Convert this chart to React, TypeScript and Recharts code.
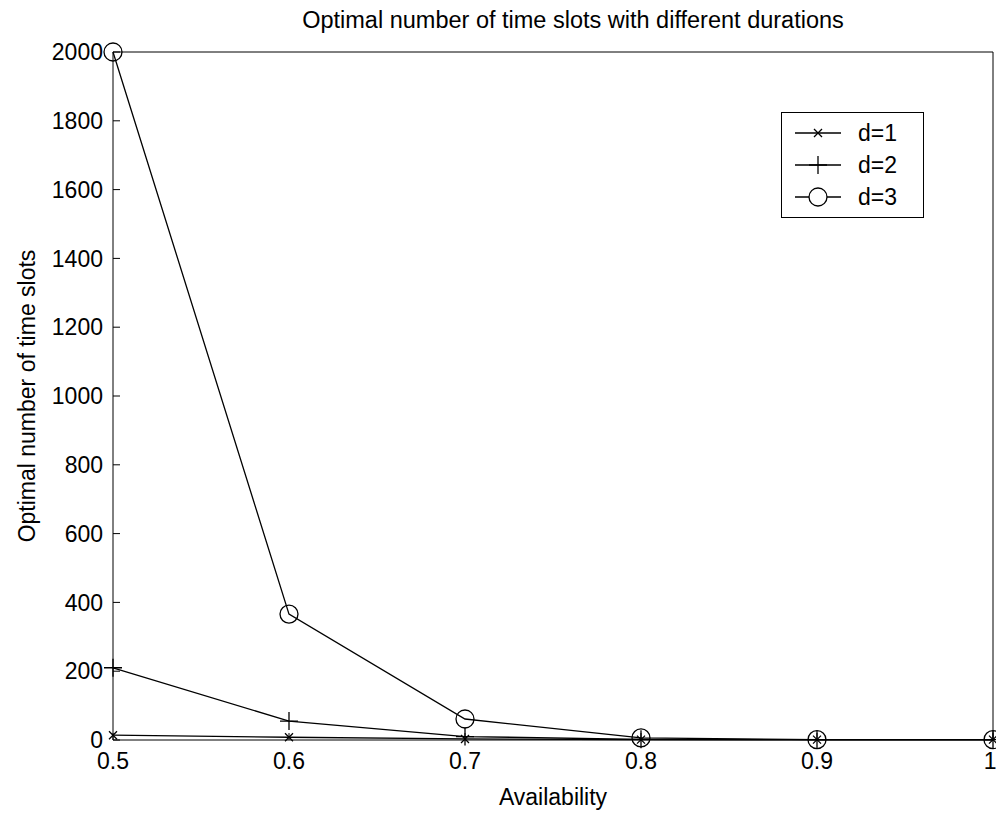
import { LineChart, Line, XAxis, YAxis, Legend } from 'recharts'

const availability = [0.5, 0.6, 0.7, 0.8, 0.9, 1]
const slotsD1 = [14, 8, 3, 1, 1, 1]
const slotsD2 = [210, 55, 10, 2, 1, 1]
const slotsD3 = [2000, 366, 61, 6, 1, 1]
const xTicks = [0.5, 0.6, 0.7, 0.8, 0.9, 1]
const yTicks = [0, 200, 400, 600, 800, 1000, 1200, 1400, 1600, 1800, 2000]
const seriesNames = ['d=1', 'd=2', 'd=3']

const data = availability.map((x, i) => ({
  x,
  d1: slotsD1[i],
  d2: slotsD2[i],
  d3: slotsD3[i],
}))

const font = '"Liberation Sans", Arial, sans-serif'
const tickStyle = { fill: '#000', fontSize: 23, fontFamily: font }

function markPath(kind: string, cx: number, cy: number) {
  if (kind === 'x') {
    const s = 4
    return `M${cx - s},${cy - s}L${cx + s},${cy + s}M${cx - s},${cy + s}L${cx + s},${cy - s}`
  }
  const s = 9
  return `M${cx - s},${cy}L${cx + s},${cy}M${cx},${cy - s}L${cx},${cy + s}`
}

function makeDot(kind: string) {
  return (props: any) => {
    const { cx, cy, index } = props
    if (cx == null || cy == null) return <g key={index} />
    if (kind === 'o') {
      return <circle key={index} cx={cx} cy={cy} r={9} stroke="#000" strokeWidth={1.3} fill="none" />
    }
    return <path key={index} d={markPath(kind, cx, cy)} stroke="#000" strokeWidth={1.3} fill="none" />
  }
}

const kinds = ['x', '+', 'o']

function LegendBox() {
  return (
    <div
      style={{
        width: 143,
        height: 106,
        border: '1.5px solid #000',
        background: '#fff',
        boxSizing: 'border-box',
        paddingTop: 4,
        fontFamily: font,
        fontSize: 23,
        color: '#000',
      }}
    >
      {seriesNames.map((name, i) => (
        <div key={name} style={{ display: 'flex', alignItems: 'center', height: 32 }}>
          <svg width={76} height={32} style={{ display: 'block' }}>
            <line x1={13} y1={16} x2={59} y2={16} stroke="#000" strokeWidth={1.3} />
            {kinds[i] === 'o' ? (
              <circle cx={36} cy={16} r={9} stroke="#000" strokeWidth={1.3} fill="#fff" />
            ) : (
              <path d={markPath(kinds[i], 36, 16)} stroke="#000" strokeWidth={1.3} fill="none" />
            )}
          </svg>
          <span>{name}</span>
        </div>
      ))}
    </div>
  )
}

export default function App() {
  return (
    <div style={{ position: 'absolute', left: 0, top: 0, background: '#fff' }}>
      <LineChart width={996} height={816} data={data} margin={{ top: 0, right: 0, bottom: 0, left: 0 }}>
        <XAxis
          xAxisId="b"
          dataKey="x"
          type="number"
          domain={[0.5, 1]}
          ticks={xTicks}
          height={76}
          tick={tickStyle}
          tickSize={-7}
          tickMargin={20}
          axisLine={{ stroke: '#000' }}
          tickLine={{ stroke: '#000' }}
          label={{
            value: 'Availability',
            position: 'insideBottom',
            offset: 11,
            style: { fill: '#000', fontSize: 23, fontFamily: font },
          }}
        />
        <XAxis
          xAxisId="t"
          orientation="top"
          dataKey="x"
          type="number"
          domain={[0.5, 1]}
          ticks={xTicks}
          height={52}
          tick={false}
          tickSize={-7}
          axisLine={{ stroke: '#000' }}
          tickLine={{ stroke: '#000' }}
          label={{
            value: 'Optimal number of time slots with different durations',
            position: 'insideTop',
            offset: 11,
            dx: 20,
            style: { fill: '#000', fontSize: 23.5, fontFamily: font },
          }}
        />
        <YAxis
          yAxisId="l"
          type="number"
          domain={[0, 2000]}
          ticks={yTicks}
          width={113}
          tick={tickStyle}
          tickSize={-7}
          tickMargin={17}
          axisLine={{ stroke: '#000' }}
          tickLine={{ stroke: '#000' }}
          label={{
            value: 'Optimal number of time slots',
            angle: -90,
            position: 'insideLeft',
            offset: 27,
            style: { fill: '#000', fontSize: 23, fontFamily: font, textAnchor: 'middle' },
          }}
        />
        <YAxis
          yAxisId="r"
          orientation="right"
          type="number"
          domain={[0, 2000]}
          ticks={yTicks}
          width={3}
          tick={false}
          tickSize={-7}
          axisLine={{ stroke: '#000' }}
          tickLine={{ stroke: '#000' }}
        />
        <Legend
          verticalAlign="middle"
          align="center"
          layout="vertical"
          content={() => <LegendBox />}
          wrapperStyle={{ position: 'absolute', left: 781, top: 112, width: 143, height: 106, bottom: 'auto' }}
        />
        <Line
          xAxisId="b"
          yAxisId="l"
          dataKey="d1"
          name="d=1"
          type="linear"
          stroke="#000"
          strokeWidth={1.3}
          dot={makeDot('x')}
          isAnimationActive={false}
        />
        <Line
          xAxisId="b"
          yAxisId="l"
          dataKey="d2"
          name="d=2"
          type="linear"
          stroke="#000"
          strokeWidth={1.3}
          dot={makeDot('+')}
          isAnimationActive={false}
        />
        <Line
          xAxisId="b"
          yAxisId="l"
          dataKey="d3"
          name="d=3"
          type="linear"
          stroke="#000"
          strokeWidth={1.3}
          dot={makeDot('o')}
          isAnimationActive={false}
        />
      </LineChart>
    </div>
  )
}
